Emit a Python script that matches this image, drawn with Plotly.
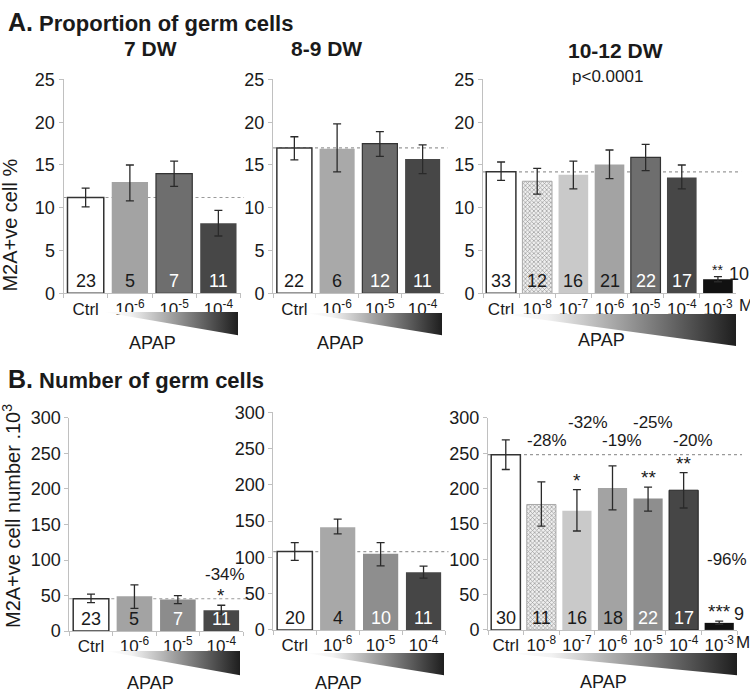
import plotly.graph_objects as go

W, H = 750, 695

# ---------------- data ----------------
cats4 = ["Ctrl", "10<sup>-6</sup>", "10<sup>-5</sup>", "10<sup>-4</sup>"]
cats7 = ["Ctrl", "10<sup>-8</sup>", "10<sup>-7</sup>", "10<sup>-6</sup>",
         "10<sup>-5</sup>", "10<sup>-4</sup>", "10<sup>-3</sup>"]

# A. Proportion of germ cells (M2A+ve cell %)
a1_val = [11.2, 13.0, 14.0, 8.2]
a1_lo = [10.1, 10.8, 12.5, 6.7]
a1_hi = [12.3, 15.0, 15.45, 9.7]
a1_n = [23, 5, 7, 11]

a2_val = [17.0, 16.9, 17.5, 15.7]
a2_lo = [15.6, 14.2, 16.0, 14.0]
a2_hi = [18.3, 19.8, 18.9, 17.35]
a2_n = [22, 6, 12, 11]

a3_val = [14.2, 13.1, 13.85, 15.05, 15.9, 13.55, 1.65]
a3_lo = [13.2, 11.6, 12.2, 13.4, 14.35, 12.2, 1.35]
a3_hi = [15.35, 14.6, 15.45, 16.75, 17.4, 15.0, 1.95]
a3_n = [33, 12, 16, 21, 22, 17, 10]
a3_sig = ["", "", "", "", "", "", "**"]

# B. Number of germ cells (x10^3)
b1_val = [45.5, 49.0, 44.5, 29.5]
b1_lo = [40.0, 32.0, 38.6, 23.6]
b1_hi = [52.0, 65.0, 50.0, 36.4]
b1_n = [23, 5, 7, 11]
b1_sig = ["", "", "", "*"]
b1_pct = ["", "", "", "-34%"]

b2_val = [108.0, 141.5, 105.0, 79.4]
b2_lo = [96.0, 132.6, 88.4, 71.4]
b2_hi = [120.5, 152.7, 120.5, 87.9]
b2_n = [20, 4, 10, 11]

b3_val = [248.0, 177.5, 168.8, 201.0, 185.8, 197.7, 10.0]
b3_lo = [227.0, 146.8, 140.0, 170.0, 168.0, 172.5, 8.0]
b3_hi = [269.0, 209.6, 198.6, 232.0, 202.0, 222.5, 12.4]
b3_n = [30, 11, 16, 18, 22, 17, 9]
b3_sig = ["", "", "*", "", "**", "**", "***"]
b3_pct = ["", "-28%", "-32%", "-19%", "-25%", "-20%", "-96%"]

# ---------------- styles ----------------
FONT = "Liberation Sans, Arial, Helvetica, sans-serif"
TXT = "#1a1a1a"
NOLINE = "rgba(0,0,0,0)"


def px_x(v):
    return v / W


def px_y(v):
    return 1 - v / H


panels = [
    dict(cats=cats4, val=a1_val, lo=a1_lo, hi=a1_hi, n=a1_n, ymax=25, dt=5,
         dom_x=(63.5, 240.5), dom_y=(71.5, 291.7),
         colors=["#ffffff", "#a3a3a3", "#6e6e6e", "#474747"],
         lcol=["#333333", NOLINE, "#333333", NOLINE], lw=[1.5, 0, 1.2, 0],
         ncol=[TXT, TXT, "white", "white"]),
    dict(cats=cats4, val=a2_val, lo=a2_lo, hi=a2_hi, n=a2_n, ymax=25, dt=5,
         dom_x=(273, 444), dom_y=(71.5, 291.7),
         colors=["#ffffff", "#a9a9a9", "#6b6b6b", "#474747"],
         lcol=["#333333", NOLINE, "#333333", NOLINE], lw=[1.5, 0, 1.2, 0],
         ncol=[TXT, TXT, "white", "white"]),
    dict(cats=cats7, val=a3_val, lo=a3_lo, hi=a3_hi, n=a3_n, ymax=25, dt=5,
         dom_x=(483, 736), dom_y=(71.5, 291.7),
         colors=["#ffffff", "#efefef", "#c9c9c9", "#a3a3a3", "#6e6e6e", "#474747", "#111111"],
         lcol=["#333333", "#a8a8a8", NOLINE, NOLINE, "#333333", NOLINE, NOLINE],
         lw=[1.5, 1, 0, 0, 1.2, 0, 0],
         ncol=[TXT, TXT, TXT, TXT, "white", "white", TXT],
         out_y=2.3, out_shift=9, sig=a3_sig, sigsize=14),
    dict(cats=cats4, val=b1_val, lo=b1_lo, hi=b1_hi, n=b1_n, ymax=300, dt=50,
         dom_x=(69.3, 243), dom_y=(420, 639.5),
         colors=["#ffffff", "#a3a3a3", "#8c8c8c", "#484848"],
         lcol=["#333333", NOLINE, NOLINE, NOLINE], lw=[1.5, 0, 0, 0],
         ncol=[TXT, TXT, "white", "white"], sig=b1_sig, sigsize=19),
    dict(cats=cats4, val=b2_val, lo=b2_lo, hi=b2_hi, n=b2_n, ymax=300, dt=50,
         dom_x=(273.3, 445), dom_y=(414.3, 638.3),
         colors=["#ffffff", "#a8a8a8", "#8e8e8e", "#464646"],
         lcol=["#333333", NOLINE, NOLINE, NOLINE], lw=[1.5, 0, 0, 0],
         ncol=[TXT, TXT, "white", "white"]),
    dict(cats=cats7, val=b3_val, lo=b3_lo, hi=b3_hi, n=b3_n, ymax=300, dt=50,
         dom_x=(488, 737), dom_y=(420, 638.3),
         colors=["#ffffff", "#efefef", "#c9c9c9", "#a3a3a3", "#8e8e8e", "#464646", "#111111"],
         lcol=["#333333", "#a8a8a8", NOLINE, NOLINE, NOLINE, "#222222", NOLINE],
         lw=[1.5, 1, 0, 0, 0, 1, 0],
         ncol=[TXT, TXT, TXT, TXT, "white", "white", TXT],
         out_y=22, out_shift=13, sig=b3_sig, sigsize=19),
]

fig = go.Figure()
annotations = []
shapes = []

for i, p in enumerate(panels, start=1):
    xa = "x" if i == 1 else f"x{i}"
    ya = "y" if i == 1 else f"y{i}"
    xkey = "xaxis" if i == 1 else f"xaxis{i}"
    ykey = "yaxis" if i == 1 else f"yaxis{i}"
    nb = len(p["cats"])
    shapes_pat = ["x" if c == "10<sup>-8</sup>" else "" for c in p["cats"]]
    fig.add_trace(go.Bar(
        x=p["cats"], y=p["val"], xaxis=xa, yaxis=ya, showlegend=False,
        marker=dict(color=p["colors"],
                    line=dict(color=p["lcol"], width=p["lw"]),
                    pattern=dict(shape=shapes_pat, fgcolor="#cdcdcd",
                                 bgcolor="#f3f3f3", size=3, solidity=0.4)),
        error_y=dict(type="data", symmetric=False,
                     array=[h - v for h, v in zip(p["hi"], p["val"])],
                     arrayminus=[v - l for v, l in zip(p["val"], p["lo"])],
                     color="#2a2a2a", thickness=1.3, width=4),
        hoverinfo="skip",
    ))
    fig.layout[xkey] = dict(
        domain=[px_x(p["dom_x"][0]), px_x(p["dom_x"][1])], anchor=ya,
        type="category", categoryorder="array", categoryarray=p["cats"],
        range=[-0.5, nb - 0.5], showline=True, linecolor="#c0c0c0", linewidth=1,
        ticks="outside", tickson="boundaries", ticklen=4, tickcolor="#c0c0c0",
        tickangle=0,
        tickfont=dict(size=17, color=TXT, family=FONT), showgrid=False,
        fixedrange=True)
    fig.layout[ykey] = dict(
        domain=[px_y(p["dom_y"][1]), px_y(p["dom_y"][0])], anchor=xa,
        range=[0, p["ymax"]], dtick=p["dt"], tick0=0, showline=True,
        linecolor="#c0c0c0", linewidth=1, ticks="outside", ticklen=4,
        tickcolor="#c0c0c0", tickfont=dict(size=18, color=TXT, family=FONT),
        showgrid=False, zeroline=False, fixedrange=True)
    # control reference line
    shapes.append(dict(type="line", xref=f"{xa} domain", yref=ya, x0=0, x1=1.02,
                       y0=p["val"][0], y1=p["val"][0], layer="below",
                       line=dict(color="#9a9a9a", width=1.2, dash="dot")))
    # n labels
    for j, (c, n) in enumerate(zip(p["cats"], p["n"])):
        if "out_y" in p and j == nb - 1:
            annotations.append(dict(x=c, y=p["out_y"], xref=xa, yref=ya, text=str(n),
                                    showarrow=False, xanchor="left", yanchor="middle",
                                    xshift=p["out_shift"],
                                    font=dict(size=18, color=TXT, family=FONT)))
        else:
            annotations.append(dict(x=c, y=0, xref=xa, yref=ya, text=str(n),
                                    showarrow=False, yanchor="bottom", yshift=0,
                                    font=dict(size=18, color=p["ncol"][j], family=FONT)))
    # significance stars
    if "sig" in p:
        for j, (c, s) in enumerate(zip(p["cats"], p["sig"])):
            if s:
                annotations.append(dict(x=c, y=p["hi"][j], xref=xa, yref=ya, text=s,
                                        showarrow=False, yanchor="bottom", yshift=-3,
                                        font=dict(size=p["sigsize"], color=TXT, family=FONT)))

# percentage labels (positions in data units of their axes)
b1_pct_y = [None, None, None, 79]
for j, (c, t) in enumerate(zip(cats4, b1_pct)):
    if t:
        annotations.append(dict(x=c, y=b1_pct_y[j], xref="x4", yref="y4", text=t,
                                showarrow=False, xshift=4,
                                font=dict(size=17, color=TXT, family=FONT)))
b3_pct_y = [None, 268, 293, 268, 293, 268, 100]
b3_pct_dx = [0, 6, 11, 9, 5, 9, 8]
for j, (c, t) in enumerate(zip(cats7, b3_pct)):
    if t:
        annotations.append(dict(x=c, y=b3_pct_y[j], xref="x6", yref="y6", text=t,
                                showarrow=False, xshift=b3_pct_dx[j],
                                font=dict(size=17, color=TXT, family=FONT)))

# unit "M" after the last concentration
annotations.append(dict(x=px_x(737), y=px_y(304), xref="paper", yref="paper", text="M",
                        showarrow=False, xanchor="left", yanchor="middle",
                        font=dict(size=17, color=TXT, family=FONT)))
annotations.append(dict(x=px_x(734), y=px_y(651), xref="paper", yref="paper", text="M",
                        showarrow=False, xanchor="left", yanchor="middle",
                        font=dict(size=17, color=TXT, family=FONT)))


def paper_text(x, y, text, size, bold=False, anchor="center", angle=0):
    t = f"<b>{text}</b>" if bold else text
    annotations.append(dict(x=px_x(x), y=px_y(y), xref="paper", yref="paper", text=t,
                            showarrow=False, xanchor=anchor, yanchor="middle",
                            textangle=angle,
                            font=dict(size=size, color=TXT, family=FONT)))


paper_text(6, 12, "<span style='font-size:25px'>A.</span> Proportion of germ cells", 22,
           bold=True, anchor="left")
paper_text(6, 380, "<span style='font-size:25px'>B.</span> Number of germ cells", 22,
           bold=True, anchor="left")
paper_text(150, 40, "7 DW", 21, bold=True)
paper_text(326, 40, "8-9 DW", 21, bold=True)
paper_text(615, 42, "10-12 DW", 21, bold=True)
paper_text(607, 68, "p<0.0001", 17)
paper_text(10, 222, "M2A+ve cell %", 20, angle=-90)
paper_text(11, 521, "M2A+ve cell number .10<sup>3</sup>", 20, angle=-90)
for (x, y) in [(152, 343), (340, 343), (601, 340), (150, 693), (338, 693), (603, 692)]:
    paper_text(x, y, "APAP", 18)

# gradient wedges under each panel (decoration, pixel coordinates)
wedges = [(103, 238, 311, 335), (305, 442, 312, 335), (500, 736, 313, 346),
          (105, 240, 660, 685), (305, 444, 662, 685), (505, 737, 662, 685)]
for (x0, x1, yt, yb) in wedges:
    fig.add_trace(go.Scatter(
        x=[x0, x1, x1, x0], y=[yt, yt, yb, yt], xaxis="x7", yaxis="y7",
        mode="lines", line=dict(width=0, color="rgba(0,0,0,0)"), fill="toself",
        fillgradient=dict(type="horizontal",
                          colorscale=[[0, "#ffffff"], [0.2, "#f2f2f2"], [1, "#1e1e1e"]]),
        showlegend=False, hoverinfo="skip"))
fig.update_layout(
    xaxis7=dict(domain=[0, 1], range=[0, W], visible=False, anchor="y7", fixedrange=True),
    yaxis7=dict(domain=[0, 1], range=[H, 0], visible=False, anchor="x7", fixedrange=True),
)

fig.update_layout(
    width=W, height=H, margin=dict(l=0, r=0, t=0, b=0),
    paper_bgcolor="white", plot_bgcolor="rgba(0,0,0,0)",
    bargap=0.18, showlegend=False,
    font=dict(family=FONT, color=TXT),
    annotations=annotations, shapes=shapes,
)

fig.write_html("out.html", config={"displayModeBar": False},
               post_script="document.body.style.margin='0';document.body.style.overflow='hidden';")
